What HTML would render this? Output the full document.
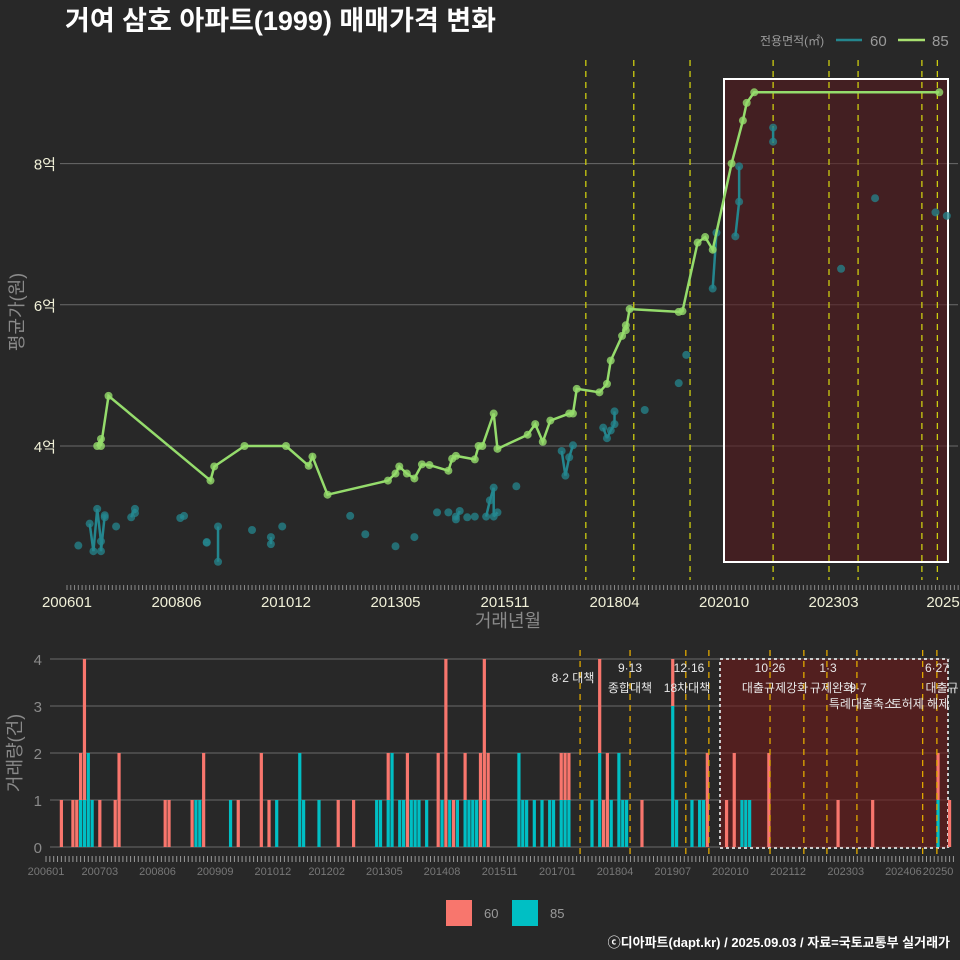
<!DOCTYPE html>
<html><head><meta charset="utf-8">
<style>
html,body{margin:0;padding:0;background:#282828;}
svg{display:block;font-family:"Liberation Sans","Noto Sans CJK KR",sans-serif;}
</style></head>
<body>
<svg id="c" width="960" height="960" viewBox="0 0 960 960" xmlns="http://www.w3.org/2000/svg">
<rect x="0" y="0" width="960" height="960" fill="#282828"/>
<text x="65" y="30" fill="#ffffff" font-size="27" font-weight="bold">거여 삼호 아파트(1999) 매매가격 변화</text>
<g>
<text x="760" y="45" fill="#9a9a9a" font-size="12">전용면적(㎡)</text>
<line x1="836" y1="40" x2="862" y2="40" stroke="#24868e" stroke-width="2.5"/>
<text x="870" y="46" fill="#9a9a9a" font-size="15">60</text>
<line x1="898" y1="40" x2="925" y2="40" stroke="#a8e070" stroke-width="2.5"/>
<text x="932" y="46" fill="#9a9a9a" font-size="15">85</text>
</g>
<g id="topchart"></g>
<g id="botchart"></g>
<g>
<rect x="446" y="900" width="26" height="26" fill="#f8766d"/>
<text x="484" y="918" fill="#9a9a9a" font-size="13">60</text>
<rect x="512" y="900" width="26" height="26" fill="#00bfc4"/>
<text x="550" y="918" fill="#9a9a9a" font-size="13">85</text>
</g>
<text x="950" y="947" text-anchor="end" fill="#ffffff" font-size="13" font-weight="bold">ⓒ디아파트(dapt.kr) / 2025.09.03 / 자료=국토교통부 실거래가</text>
</svg>
<script>
const months85 = [8,9,9,11,38,39,47,58,64,65,69,85,87,88,90,92,94,96,101,102,103,108,109,110,113,114,122,124,126,128,133,134,135,141,143,144,147,148,148,149,162,163,167,169,171,176,179,180,182,231];
const price85  = [4.0,4.1,4.0,4.71,3.51,3.71,4.0,4.0,3.72,3.85,3.31,3.51,3.61,3.71,3.61,3.54,3.74,3.73,3.65,3.82,3.86,3.81,4.0,4.0,4.46,3.96,4.16,4.31,4.06,4.36,4.46,4.46,4.81,4.76,4.88,5.21,5.56,5.71,5.64,5.94,5.90,5.91,6.88,6.96,6.78,8.0,8.61,8.86,9.01,9.01];
const months60 = [3,6,7,8,9,9,10,10,13,17,18,18,30,31,37,37,40,40,49,54,54,57,75,79,87,92,98,101,103,103,104,106,108,111,112,113,113,114,119,131,132,133,134,142,143,144,145,145,153,162,164,171,172,177,178,178,187,187,205,214,230,233];
const price60  = [2.59,2.90,2.51,3.11,2.65,2.51,3.02,2.99,2.86,2.99,3.11,3.05,2.98,3.01,2.64,2.63,2.86,2.36,2.81,2.71,2.61,2.86,3.01,2.75,2.58,2.71,3.06,3.06,3.0,2.96,3.08,2.99,3.0,3.0,3.23,3.41,3.0,3.06,3.43,3.93,3.58,3.84,4.01,4.26,4.11,4.22,4.31,4.49,4.51,4.89,5.29,6.23,7.02,6.97,7.46,7.96,8.51,8.31,6.51,7.51,7.31,7.26];
const yTicks = [4,6,8];
const yTickLabels = ["4억","6억","8억"];
const xTickMonths = [0,29,58,87,116,145,174,203,232];
const xTickLabels = ["200601","200806","201012","201305","201511","201804","202010","202303","2025"];
const policyTop = [137.4,150.1,165,187,201.8,209.5,226.4,230.5];
const barMonths = [4,7,8,9,10,11,12,14,18,19,31,32,38,39,40,41,48,50,56,58,60,66,67,71,76,80,86,87,89,90,92,93,94,95,96,97,99,102,103,104,105,106,107,109,110,111,112,113,114,115,123,124,125,127,129,131,132,134,135,136,142,144,145,146,147,149,150,151,155,163,164,168,170,171,172,177,179,181,182,183,188,206,215,232,235];
const cnt85 =     [0,0,0,1,1,2,1,0,0,0,0,0,0,1,1,0,1,0,0,0,1,2,1,1,0,0,1,1,1,2,1,1,0,1,1,1,1,0,1,0,1,0,1,1,1,1,1,0,1,0,2,1,1,1,1,1,1,1,1,1,1,2,0,0,1,2,1,1,0,3,1,1,1,1,0,0,0,1,1,1,0,0,0,1,0];
const cnt60 =     [1,1,1,1,3,0,0,1,1,2,1,1,1,0,0,2,0,1,2,1,0,0,0,0,1,1,0,0,1,0,0,0,2,0,0,0,0,2,0,4,0,1,0,1,0,0,0,2,3,2,0,0,0,0,0,0,0,1,1,1,0,2,1,2,0,0,0,0,1,1,0,0,0,0,2,1,2,0,0,0,2,1,1,1,1];
const vTicks = [0,1,2,3,4];
const bxTickMonths = [0,14,29,44,59,73,88,103,118,133,148,163,178,193,208,223,232];
const bxTickLabels = ["200601","200703","200806","200909","201012","201202","201305","201408","201511","201701","201804","201907","202010","202112","202303","202406","20250"];
const policyBot = [138.9,151.9,166.4,172.4,188.3,197.1,203.1,210.9,228,231.7];

const NS="http://www.w3.org/2000/svg";
function mk(parent,tag,attrs){const e=document.createElementNS(NS,tag);for(const k in attrs)e.setAttribute(k,attrs[k]);parent.appendChild(e);return e;}

const tx = m => 67 + m*3.776;
const ty = p => 446 - (p-4)*70.6;
const topG = document.getElementById('topchart');
yTicks.forEach((v,i)=>{
  const g=mk(topG,'line',{x1:60,x2:958,y1:ty(v),y2:ty(v),stroke:'#6a6a6a','stroke-width':1});
  
  
  const t=mk(topG,'text',{x:56,y:ty(v)+6,'text-anchor':'end',fill:'#f0f0d8','font-size':15});
  t.textContent=yTickLabels[i];
  
  
});
const hl=mk(topG,'rect',{x:724,y:79,width:224,height:483,fill:'rgba(85,25,30,0.6)',stroke:'#ffffff','stroke-width':2});


policyTop.forEach(m=>{
  const l=mk(topG,'line',{x1:tx(m),x2:tx(m),y1:60,y2:580,stroke:'#cccc10','stroke-width':1.3,'stroke-dasharray':'6,5'});
  
  
});
for(let m=0;m<=236;m++){
  const l=mk(topG,'line',{x1:tx(m),x2:tx(m),y1:585,y2:590,stroke:'#888','stroke-width':1});
  
  
}
xTickMonths.forEach((m,i)=>{
  const t=mk(topG,'text',{x:tx(m),y:607,'text-anchor':'middle',fill:'#f0f0d8','font-size':15});
  t.textContent=xTickLabels[i];
  
  
});
const xt=mk(topG,'text',{x:508,y:627,'text-anchor':'middle',fill:'#8a8a8a','font-size':18});
xt.textContent='거래년월';


const yt=mk(topG,'text',{x:0,y:0,'text-anchor':'middle',fill:'#8a8a8a','font-size':18,transform:'translate(23,312) rotate(-90)'});
yt.textContent='평균가(원)';



for(let i=1;i<months60.length;i++){
  if(months60[i]-months60[i-1]<=1){
    const l=mk(topG,'line',{x1:tx(months60[i-1]),y1:ty(price60[i-1]),x2:tx(months60[i]),y2:ty(price60[i]),stroke:'#24868e','stroke-width':2.5});
    
    
  }
}
months60.forEach((m,i)=>{
  const c=mk(topG,'circle',{cx:tx(m),cy:ty(price60[i]),r:4,fill:'rgba(36,134,142,0.75)'});
  
  
});
const pts=months85.map((m,i)=>tx(m)+','+ty(price85[i])).join(' ');
const pl=mk(topG,'polyline',{points:pts,fill:'none',stroke:'#95dc6c','stroke-width':2.5});


months85.forEach((m,i)=>{
  const c=mk(topG,'circle',{cx:tx(m),cy:ty(price85[i]),r:4,fill:'rgba(149,220,108,0.8)'});
  
  
});

const bx = m => 46 + m*3.845;
const byy = v => 847 - v*47;
const botG=document.getElementById('botchart');
vTicks.forEach(v=>{
  const g=mk(botG,'line',{x1:50,x2:950,y1:byy(v),y2:byy(v),stroke:'#6a6a6a','stroke-width':1});
  
  
  const t=mk(botG,'text',{x:42,y:byy(v)+6,'text-anchor':'end',fill:'#8a8a8a','font-size':15});
  t.textContent=String(v);
  
  
});
const bhl=mk(botG,'rect',{x:720,y:659,width:228,height:189,fill:'rgba(110,25,25,0.6)',stroke:'#cccccc','stroke-width':2,'stroke-dasharray':'3,3'});


const bw=3.2;
barMonths.forEach((m,i)=>{
  if(cnt85[i]>0){
    const r=mk(botG,'rect',{x:bx(m)-bw/2,y:byy(cnt85[i]),width:bw,height:cnt85[i]*47,fill:'#00bfc4'});
    
    
  }
  if(cnt60[i]>0){
    const r=mk(botG,'rect',{x:bx(m)-bw/2,y:byy(cnt85[i]+cnt60[i]),width:bw,height:cnt60[i]*47,fill:'#f8766d'});
    
    
  }
});
policyBot.forEach(m=>{
  const l=mk(botG,'line',{x1:bx(m),x2:bx(m),y1:650,y2:858,stroke:'#e0a800','stroke-width':1.3,'stroke-dasharray':'6,5'});
  
  
});
for(let m=0;m<=236;m++){
  const l=mk(botG,'line',{x1:bx(m),x2:bx(m),y1:856,y2:862,stroke:'#999','stroke-width':1});
  
  
}
bxTickMonths.forEach((m,i)=>{
  const t=mk(botG,'text',{x:bx(m),y:875,'text-anchor':'middle',fill:'#777','font-size':11});
  t.textContent=bxTickLabels[i];
  
  
});
const vyt=mk(botG,'text',{x:0,y:0,'text-anchor':'middle',fill:'#8a8a8a','font-size':18,transform:'translate(21,753) rotate(-90)'});
vyt.textContent='거래량(건)';


const ann=[["8·2 대책",573,682],["9·13",630,672],["종합대책",630,692],["12·16",689,672],["18차대책",687,692],["10·26",770,672],["대출규제강화",775,692],["1·3",828,672],["규제완화",832,692],["9·7",858,692],["특례대출축소",862,708],["토허제 해제",920,708],["6·27",937,672],["대출규",942,692]];
ann.forEach(a=>{
  const t=mk(botG,'text',{x:a[1],y:a[2],'text-anchor':'middle',fill:'#e8e8e8','font-size':12});
  t.textContent=a[0];
  
  
});
</script>
</body></html>
